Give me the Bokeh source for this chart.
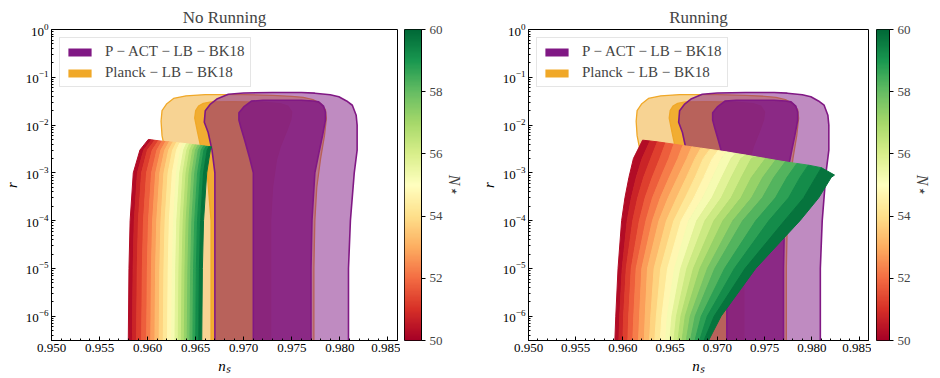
import numpy as np
from bokeh.plotting import figure
from bokeh.layouts import row
from bokeh.models import (FixedTicker, PrintfTickFormatter, Legend, LegendItem,
                          LinearColorMapper)
from bokeh.embed import file_html
from bokeh.resources import INLINE

# ------------------------------------------------------------------ data
x_ticks = [0.950, 0.955, 0.960, 0.965, 0.970, 0.975, 0.980, 0.985]
y_ticks = [1e-6, 1e-5, 1e-4, 1e-3, 1e-2, 1e-1, 1e0]
cbar_ticks = [50, 52, 54, 56, 58, 60]
titles = ["No Running", "Running"]
label_pact = "P \u2212 ACT \u2212 LB \u2212 BK18"
label_planck = "Planck \u2212 LB \u2212 BK18"

N_values = [50, 50.5, 51, 51.5, 52, 52.5, 53, 53.5, 54, 54.5, 55,
            55.5, 56, 56.5, 57, 57.5, 58, 58.5, 59, 59.5, 60]

# Planck-LB-BK18 contours (n_s, r)
planck_outer_ns = [0.9630, 0.9630, 0.9624, 0.9618, 0.9615, 0.9614, 0.9615, 0.9620, 0.9627,
                   0.9640, 0.9660, 0.9700, 0.9730, 0.9750, 0.9762, 0.9772, 0.9780, 0.9785,
                   0.9786, 0.9784, 0.9780, 0.9776, 0.9774, 0.9773, 0.9773]
planck_outer_r = [1e-8, 1e-4, 1e-3, 3e-3, 6e-3, 0.012, 0.02, 0.028, 0.036, 0.041, 0.0435,
                  0.0435, 0.042, 0.040, 0.038, 0.034, 0.028, 0.021, 0.014, 6e-3, 2e-3,
                  5e-4, 1e-4, 1e-5, 1e-8]
planck_inner_ns = [0.9666, 0.9666, 0.9662, 0.9656, 0.9652, 0.9649, 0.9650, 0.9653, 0.9658,
                   0.9666, 0.9690, 0.9720, 0.9738, 0.9746, 0.9750, 0.9749, 0.9745, 0.9738,
                   0.9734, 0.9730, 0.9728, 0.9728]
planck_inner_r = [1e-8, 1e-4, 1e-3, 3e-3, 7e-3, 0.014, 0.02, 0.025, 0.0285, 0.0305, 0.031,
                  0.030, 0.028, 0.025, 0.019, 0.013, 7.8e-3, 3.5e-3, 1.85e-3, 5e-4, 1e-4, 1e-8]

# P-ACT-LB-BK18 contours (n_s, r)
pact_outer_ns = [0.9670, 0.9670, 0.9670, 0.9667, 0.9663, 0.9659, 0.9660, 0.9665, 0.9672,
                 0.9684, 0.9700, 0.9730, 0.9760, 0.9774, 0.9790, 0.9799, 0.9807, 0.9813,
                 0.9817, 0.9818, 0.9818, 0.9815, 0.9811, 0.9809, 0.9809]
pact_outer_r = [1e-8, 1e-4, 1e-3, 3e-3, 7e-3, 0.0115, 0.02, 0.027, 0.035, 0.044, 0.047,
                0.048, 0.048, 0.0465, 0.043, 0.039, 0.032, 0.026, 0.016, 0.01, 3e-3, 1e-3,
                1e-4, 1e-5, 1e-8]
pact_inner_ns = [0.9710, 0.9710, 0.9710, 0.9706, 0.9701, 0.9697, 0.9695, 0.9695, 0.9700,
                 0.9708, 0.9720, 0.9740, 0.9760, 0.9772, 0.9778, 0.9783, 0.9785, 0.9785,
                 0.9782, 0.9778, 0.9774, 0.9771, 0.9770, 0.9770]
pact_inner_r = [1e-8, 1e-4, 1e-3, 2.1e-3, 4.8e-3, 9e-3, 0.0127, 0.018, 0.024, 0.0317, 0.033,
                0.033, 0.033, 0.032, 0.0306, 0.025, 0.0188, 0.0127, 6e-3, 2.5e-3, 1e-3,
                1e-4, 1e-5, 1e-8]

# Model predictions, one curve per N_*: n_s at fixed r levels, then the curve's end point
norun_r_levels = [3e-7, 1e-5, 1e-4, 1e-3, 3e-3]
norun_ns = [
    [0.95799, 0.95806, 0.95818, 0.95851, 0.95920],
    [0.95842, 0.95849, 0.95861, 0.95894, 0.95959],
    [0.95885, 0.95892, 0.95904, 0.95937, 0.95998],
    [0.95938, 0.95945, 0.95957, 0.95989, 0.96048],
    [0.95990, 0.95997, 0.96009, 0.96041, 0.96097],
    [0.96033, 0.96040, 0.96052, 0.96084, 0.96138],
    [0.96076, 0.96083, 0.96095, 0.96127, 0.96178],
    [0.96120, 0.96127, 0.96139, 0.96170, 0.96219],
    [0.96163, 0.96170, 0.96182, 0.96213, 0.96260],
    [0.96207, 0.96214, 0.96226, 0.96257, 0.96301],
    [0.96250, 0.96257, 0.96269, 0.96300, 0.96342],
    [0.96285, 0.96292, 0.96304, 0.96334, 0.96375],
    [0.96319, 0.96326, 0.96338, 0.96368, 0.96408],
    [0.96351, 0.96358, 0.96370, 0.96400, 0.96439],
    [0.96382, 0.96389, 0.96401, 0.96431, 0.96469],
    [0.96412, 0.96419, 0.96431, 0.96461, 0.96498],
    [0.96441, 0.96448, 0.96460, 0.96490, 0.96527],
    [0.96471, 0.96478, 0.96490, 0.96520, 0.96557],
    [0.96500, 0.96507, 0.96519, 0.96549, 0.96586],
    [0.96532, 0.96539, 0.96551, 0.96582, 0.96620],
    [0.96563, 0.96570, 0.96582, 0.96615, 0.96653],
]
norun_top_ns = [0.96007, 0.96041, 0.96075, 0.96113, 0.96150, 0.96188, 0.96225, 0.96263,
                0.96300, 0.96335, 0.96370, 0.96403, 0.96435, 0.96465, 0.96495, 0.96525,
                0.96555, 0.96583, 0.96610, 0.96639, 0.96667]
norun_top_r = [5.0e-3, 4.9e-3, 4.8e-3, 4.7e-3, 4.6e-3, 4.52e-3, 4.45e-3, 4.37e-3, 4.3e-3,
               4.22e-3, 4.15e-3, 4.07e-3, 4.0e-3, 3.92e-3, 3.85e-3, 3.8e-3, 3.75e-3,
               3.67e-3, 3.6e-3, 3.55e-3, 3.5e-3]

run_r_levels = [3e-7, 1e-6, 1e-5, 1e-4, 3e-4, 8e-4, 2e-3]
run_ns = [
    [0.95914, 0.95924, 0.95948, 0.95986, 0.96021, 0.96063, 0.96111],
    [0.95957, 0.95966, 0.95992, 0.96045, 0.96089, 0.96141, 0.96203],
    [0.96000, 0.96007, 0.96035, 0.96104, 0.96156, 0.96219, 0.96295],
    [0.96052, 0.96061, 0.96088, 0.96174, 0.96235, 0.96310, 0.96391],
    [0.96104, 0.96115, 0.96140, 0.96244, 0.96313, 0.96400, 0.96486],
    [0.96165, 0.96176, 0.96200, 0.96313, 0.96396, 0.96490, 0.96582],
    [0.96226, 0.96236, 0.96260, 0.96382, 0.96479, 0.96580, 0.96677],
    [0.96282, 0.96295, 0.96330, 0.96461, 0.96570, 0.96672, 0.96764],
    [0.96337, 0.96354, 0.96400, 0.96539, 0.96660, 0.96764, 0.96851],
    [0.96395, 0.96412, 0.96473, 0.96617, 0.96752, 0.96856, 0.96947],
    [0.96452, 0.96469, 0.96546, 0.96695, 0.96844, 0.96948, 0.97042],
    [0.96496, 0.96518, 0.96612, 0.96782, 0.96943, 0.97047, 0.97146],
    [0.96539, 0.96567, 0.96677, 0.96869, 0.97042, 0.97146, 0.97250],
    [0.96582, 0.96614, 0.96747, 0.96964, 0.97146, 0.97254, 0.97360],
    [0.96625, 0.96660, 0.96816, 0.97059, 0.97250, 0.97361, None],
    [0.96669, 0.96713, 0.96895, 0.97164, 0.97363, 0.97480, None],
    [0.96713, 0.96765, 0.96973, 0.97268, 0.97476, 0.97598, None],
    [0.96761, 0.96829, 0.97077, 0.97407, 0.97615, 0.97737, None],
    [0.96809, 0.96893, 0.97181, 0.97546, 0.97754, 0.97875, None],
    [0.96856, 0.96966, 0.97294, 0.97711, 0.97914, 0.98040, None],
    [0.96903, 0.97039, 0.97406, 0.97875, 0.98073, 0.98205, None],
]
run_top_ns = [0.96208, 0.96287, 0.96365, 0.96452, 0.96539, 0.96634, 0.96729, 0.96825,
              0.96921, 0.97008, 0.97094, 0.97198, 0.97302, 0.97406, 0.97510, 0.97615,
              0.97719, 0.97841, 0.97963, 0.98102, 0.98240]
run_top_r = [4.83e-3, 4.64e-3, 4.45e-3, 4.21e-3, 3.98e-3, 3.73e-3, 3.5e-3, 3.29e-3,
             3.09e-3, 2.92e-3, 2.75e-3, 2.54e-3, 2.35e-3, 2.17e-3, 2.0e-3, 1.84e-3,
             1.7e-3, 1.57e-3, 1.45e-3, 1.28e-3, 9.0e-4]

# ------------------------------------------------------------------ style
FONT = "Liberation Serif"
PURPLE = "#801884"
ORANGE = "#F0A828"
RDYLGN = ['#a50026', '#d73027', '#f46d43', '#fdae61', '#fee08b', '#ffffbf',
          '#d9ef8b', '#a6d96a', '#66bd63', '#1a9850', '#006837']


def _rgb(h):
    return np.array([int(h[i:i + 2], 16) for i in (1, 3, 5)], dtype=float)


def cmap(f):
    """f in [0,1] -> hex colour of RdYlGn."""
    f = min(max(f, 0.0), 1.0) * (len(RDYLGN) - 1)
    k = min(int(f), len(RDYLGN) - 2)
    t = f - k
    c = _rgb(RDYLGN[k]) * (1 - t) + _rgb(RDYLGN[k + 1]) * t
    return "#%02x%02x%02x" % tuple(int(round(v)) for v in c)


N_MIN, N_MAX = N_values[0], N_values[-1]
palette256 = [cmap(i / 255) for i in range(256)]

x_minor = [round(0.950 + 0.001 * i, 3) for i in range(37)]
y_minor = [m * 10.0 ** e for e in range(-7, 0) for m in range(2, 10)]

H = 376
TOP = 29
BOTTOM = 35


def curve(ns_row, levels, top_ns, top_r):
    xs = [x for x in ns_row if x is not None]
    ys = [lv for x, lv in zip(ns_row, levels) if x is not None]
    return xs + [top_ns], ys + [top_r]


def make_main(title, ns_table, levels, top_ns, top_r, width, left):
    p = figure(width=width, height=H, title=title, x_range=(0.950, 0.986),
               y_range=(3.1e-7, 1.0), y_axis_type="log", output_backend="svg",
               toolbar_location=None, min_border_left=left, min_border_right=3,
               min_border_top=TOP, min_border_bottom=BOTTOM)
    p.title.align = "center"
    p.title.text_font = FONT
    p.title.text_font_size = "17px"
    p.title.text_font_style = "normal"
    p.title.standoff = 6
    p.xgrid.visible = False
    p.ygrid.visible = False
    p.outline_line_color = "black"
    p.outline_line_width = 1

    # contours
    p.patch(planck_outer_ns, planck_outer_r, fill_color=ORANGE, fill_alpha=0.5,
            line_color=ORANGE, line_width=1.3)
    p.patch(planck_inner_ns, planck_inner_r, fill_color=ORANGE, fill_alpha=0.9,
            line_color=ORANGE, line_width=1.3)
    p.patch(pact_outer_ns, pact_outer_r, fill_color=PURPLE, fill_alpha=0.5,
            line_color=PURPLE, line_width=1.6)
    p.patch(pact_inner_ns, pact_inner_r, fill_color=PURPLE, fill_alpha=0.82,
            line_color=PURPLE, line_width=1.6)

    # model band, strip between consecutive N_* curves
    curves = [curve(ns_table[i], levels, top_ns[i], top_r[i]) for i in range(len(N_values))]
    xs, ys, cols = [], [], []
    for i in range(len(N_values) - 1):
        x1, y1 = curves[i]
        x2, y2 = curves[i + 1]
        xs.append(x1 + x2[::-1])
        ys.append(y1 + y2[::-1])
        mid = 0.5 * (N_values[i] + N_values[i + 1])
        cols.append(cmap((mid - N_MIN) / (N_MAX - N_MIN)))
    p.patches(xs, ys, fill_color=cols, line_color=cols, line_width=1)

    # legend proxies (outside the visible range)
    d1 = p.quad(left=[0.90], right=[0.91], bottom=[1e-9], top=[2e-9],
                fill_color=PURPLE, line_color=None)
    d2 = p.quad(left=[0.90], right=[0.91], bottom=[1e-9], top=[2e-9],
                fill_color=ORANGE, line_color=None)
    legend = Legend(items=[LegendItem(label=label_pact, renderers=[d1]),
                           LegendItem(label=label_planck, renderers=[d2])],
                    location="top_left")
    legend.label_text_font = FONT
    legend.label_text_font_size = "15px"
    legend.glyph_width = 29
    legend.glyph_height = 10
    legend.label_standoff = 11
    legend.label_height = 16
    legend.padding = 5
    legend.spacing = 4
    legend.margin = 8
    legend.border_line_color = "#cccccc"
    legend.background_fill_alpha = 0.8
    p.add_layout(legend)

    # axes
    p.xaxis.ticker = FixedTicker(ticks=x_ticks, minor_ticks=x_minor)
    p.xaxis.formatter = PrintfTickFormatter(format="%.3f")
    p.yaxis.ticker = FixedTicker(ticks=y_ticks, minor_ticks=y_minor)
    for ax in (p.xaxis, p.yaxis):
        ax.major_tick_in = 4
        ax.major_tick_out = 0
        ax.minor_tick_in = 2
        ax.minor_tick_out = 0
        ax.axis_line_color = "black"
        ax.major_tick_line_color = "black"
        ax.minor_tick_line_color = "black"
        ax.major_label_text_font = FONT
        ax.major_label_text_font_size = "13px"
        ax.major_label_text_color = "black"
        ax.axis_label_text_font = FONT
        ax.axis_label_text_font_size = "15px"
        ax.axis_label_text_font_style = "italic"
        ax.axis_label_text_color = "black"
        ax.major_label_standoff = 3
        ax.axis_label_standoff = 3
    p.xaxis.axis_label = "n\u209b"
    p.yaxis.axis_label = "r"
    return p


def make_cbar(width, left, right):
    mapper = LinearColorMapper(palette=palette256, low=N_MIN, high=N_MAX)
    cb = figure(width=width, height=H, x_range=(0, 1), y_range=(N_MIN, N_MAX),
                output_backend="svg", toolbar_location=None, x_axis_location=None,
                y_axis_location="right", min_border_left=left, min_border_right=right,
                min_border_top=TOP, min_border_bottom=BOTTOM)
    cb.image(image=[np.linspace(N_MIN, N_MAX, 256).reshape(256, 1)], x=0, y=N_MIN,
             dw=1, dh=N_MAX - N_MIN, color_mapper=mapper)
    cb.xgrid.visible = False
    cb.ygrid.visible = False
    cb.outline_line_color = "black"
    ax = cb.yaxis
    ax.ticker = FixedTicker(ticks=cbar_ticks)
    ax.major_tick_in = 0
    ax.major_tick_out = 4
    ax.minor_tick_line_color = None
    ax.axis_line_color = "black"
    ax.major_label_text_font = FONT
    ax.major_label_text_font_size = "13px"
    ax.major_label_standoff = 4
    ax.axis_label = "N\u22c6"
    ax.axis_label_text_font = FONT
    ax.axis_label_text_font_size = "16px"
    ax.axis_label_text_font_style = "italic"
    ax.axis_label_standoff = 0
    return cb


p1 = make_main(titles[0], norun_ns, norun_r_levels, norun_top_ns, norun_top_r, 400, 50)
c1 = make_cbar(77, 4, 56)
p2 = make_main(titles[1], run_ns, run_r_levels, run_top_ns, run_top_r, 394, 45)
c2 = make_cbar(62, 5, 40)

layout = row(p1, c1, p2, c2)
open("out.html", "w").write(file_html(layout, INLINE))
